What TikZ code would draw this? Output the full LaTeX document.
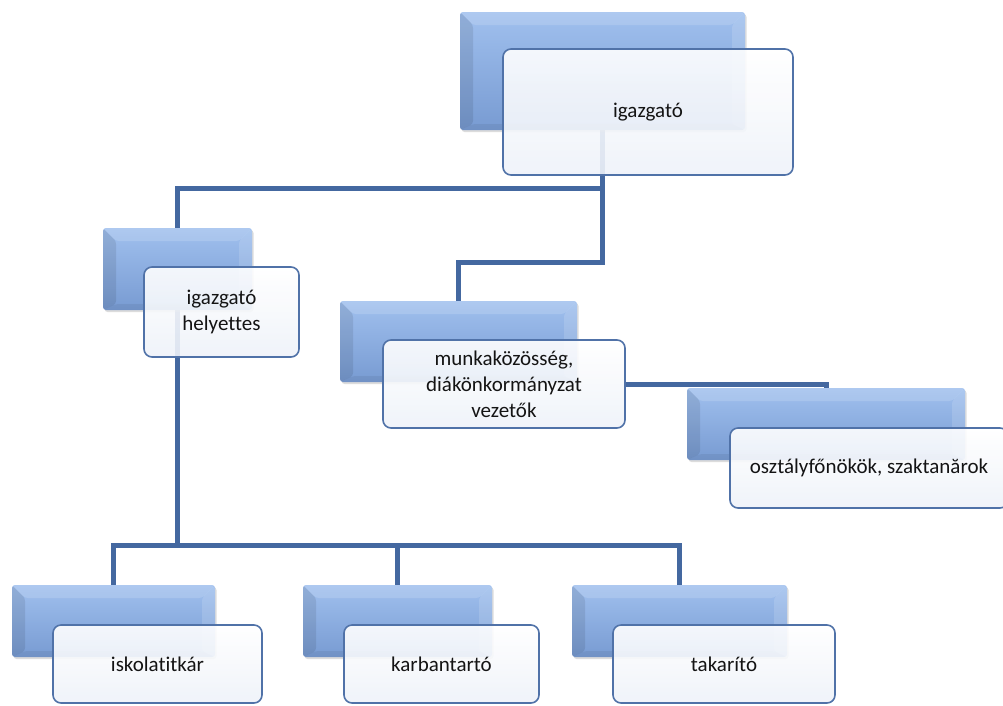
\documentclass[tikz,border=0pt]{standalone}
\usepackage{fontspec}
\setmainfont{Carlito}[Ligatures=NoCommon]
\usetikzlibrary{shadows,backgrounds}
\definecolor{connc}{RGB}{68,104,160}
\definecolor{bbtop}{RGB}{160,192,238}
\definecolor{bbbot}{RGB}{120,155,210}
\definecolor{fbdraw}{RGB}{80,114,168}
\definecolor{fbbot}{RGB}{238,242,249}
\definecolor{txt}{RGB}{20,20,20}
\tikzset{
  backbox/.style={rectangle, rounded corners=3pt, top color=bbtop, bottom color=bbbot,
    draw=none, inner sep=0pt,
    drop shadow={shadow xshift=1.5pt, shadow yshift=-2pt, opacity=0.3, fill=black!45},
    path picture={
      \fill[black, opacity=0.09] (path picture bounding box.north west)
        -- ([xshift=13pt,yshift=-13pt]path picture bounding box.north west)
        -- ([xshift=13pt,yshift=6pt]path picture bounding box.south west)
        -- (path picture bounding box.south west) -- cycle;
      \fill[white, opacity=0.15] (path picture bounding box.north west)
        -- (path picture bounding box.north east)
        -- ([xshift=-13pt,yshift=-13pt]path picture bounding box.north east)
        -- ([xshift=13pt,yshift=-13pt]path picture bounding box.north west) -- cycle;
      \fill[white, opacity=0.14] (path picture bounding box.north east)
        -- ([xshift=-13pt,yshift=-13pt]path picture bounding box.north east)
        -- ([xshift=-13pt,yshift=6pt]path picture bounding box.south east)
        -- (path picture bounding box.south east) -- cycle;
      \fill[black, opacity=0.06] (path picture bounding box.south west)
        -- ([xshift=13pt,yshift=6pt]path picture bounding box.south west)
        -- ([xshift=-13pt,yshift=6pt]path picture bounding box.south east)
        -- (path picture bounding box.south east) -- cycle;
    }},
  frontbox/.style={rectangle, rounded corners=8pt, draw=fbdraw, line width=1.6pt,
    top color=white, bottom color=fbbot, fill opacity=0.9, text opacity=1,
    text=txt, align=center, font=\fontsize{21}{26}\selectfont, inner sep=0pt},
  connector/.style={draw=connc, line width=5pt},
}
\begin{document}
\begin{tikzpicture}[x=1pt,y=-1pt]
\useasboundingbox (0,0) rectangle (1003,705);

\node[backbox, minimum width=285pt, minimum height=118pt] (b0) at (602.5,71) {};
\node[frontbox, minimum width=290pt, minimum height=126pt] (f0) at (648,112) {igazgató};

\node[backbox, minimum width=149pt, minimum height=82pt] (b1) at (177.5,269) {};
\node[frontbox, minimum width=155pt, minimum height=90pt] (f1) at (221.5,312) {igazgató\\helyettes};

\node[backbox, minimum width=237pt, minimum height=81pt] (b2) at (458.5,341.5) {};
\node[frontbox, minimum width=242pt, minimum height=88pt] (f2) at (504,384) {munkaközösség,\\diákönkormányzat\\vezetők};

\node[backbox, minimum width=278pt, minimum height=72pt] (b3) at (826,424) {};
\node[frontbox, minimum width=278pt, minimum height=80pt] (f3) at (869,468) {osztályfőnökök, szaktanărok};

\node[backbox, minimum width=203pt, minimum height=72pt] (b4) at (113.5,621) {};
\node[frontbox, minimum width=209pt, minimum height=78pt] (f4) at (157.5,664) {iskolatitkár};

\node[backbox, minimum width=189pt, minimum height=72pt] (b5) at (397.5,621) {};
\node[frontbox, minimum width=195pt, minimum height=78pt] (f5) at (441.5,664) {karbantartó};

\node[backbox, minimum width=215pt, minimum height=72pt] (b6) at (679.5,621) {};
\node[frontbox, minimum width=222pt, minimum height=78pt] (f6) at (724,664) {takarító};

\begin{scope}[on background layer]
  \coordinate (j1) at (602.5,188);
  \coordinate (j2) at (602.5,262);
  \coordinate (j3) at (177.5,545);
  \draw[connector] (b0.south) -- (j1) -| (b1.north);
  \draw[connector] (j1) -- (j2) -| (b2.north);
  \draw[connector] (f2.east) -| (b3.north);
  \draw[connector] (b1.south) -- (j3);
  \draw[connector] (j3) -| (b4.north);
  \draw[connector] (j3) -| (b5.north);
  \draw[connector] (j3) -| (b6.north);
\end{scope}
\end{tikzpicture}
\end{document}
